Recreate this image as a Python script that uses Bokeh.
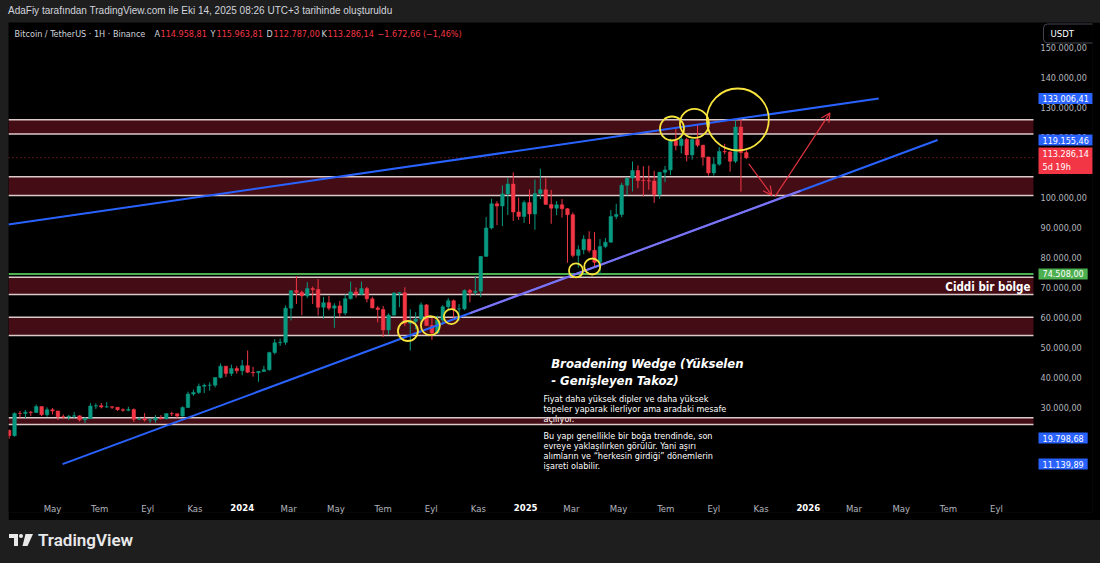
import numpy as np
import pandas as pd
from bokeh.plotting import figure
from bokeh.models import (ColumnDataSource, Range1d, LinearAxis, FixedTicker,
                          Label, Arrow, OpenHead, Div, CustomJS)
from bokeh.layouts import column, row
from bokeh.document import Document
from bokeh.embed import file_html
from bokeh.resources import INLINE
from bokeh.core.properties import value

# ---------------- data (weekly BTC/USDT candles) ----------------
FIRST_WEEK = "2023-03-06"
OPEN = [22430, 20620, 28030, 27990, 28450, 28330, 30300, 27590, 29230, 28850, 26910, 26850, 27100,
        27230, 25910, 26340, 30470, 30590, 30160, 30230, 30080, 29280, 29070, 29300, 26090, 26100,
        25820, 25830, 26520, 26250, 27970, 27920, 27150, 29990, 34500, 35010, 37050, 37380, 37450,
        39970, 43790, 41370, 42990,
        42280, 43950, 41730, 41580, 42030, 42580, 48300, 51570, 51730, 63110, 68960, 68390, 67210,
        69650, 69360, 63420, 64940, 63120, 63890, 61480, 66270, 68540, 67760, 69650, 66220, 63200,
        62680, 55850, 60800, 68160, 68250, 58100, 58710, 59480, 64210, 57300, 54840, 59130, 63580,
        65600, 62850, 62870, 69000, 68370, 68770, 80370, 89850, 97900, 97200, 101200, 104460, 95180,
        93700,
        98300, 94500, 101330, 102600, 97700, 96450, 97570, 96250, 94270, 80700, 82600, 86080, 82400,
        78400, 83700, 85100, 93700, 94300, 104100, 106500, 109000, 105700, 105600, 105500, 100900,
        108400, 109200, 119000, 117300, 119400, 114200, 119300, 117400, 113500, 108200, 111100,
        115300, 115200, 112100, 123500, 114958.81]
HIGH = [22600, 28390, 28870, 29200, 28840, 31000, 30490, 30040, 29820, 28890, 27670, 27500, 28450,
        27400, 26800, 31430, 31390, 31500, 31800, 30440, 30100, 29730, 30240, 29690, 26800, 28150,
        26450, 27480, 27480, 28050, 28580, 27990, 30380, 35280, 35980, 37980, 38000, 38400, 40000,
        44700, 43800, 44300, 43800,
        45880, 48970, 43570, 42200, 43880, 48590, 52820, 52980, 64000, 69000, 73780, 68900, 71780,
        70300, 72800, 66880, 67200, 64750, 65500, 67700, 71950, 70000, 71950, 70200, 66900, 63800,
        63860, 61400, 68400, 68500, 70080, 62750, 61800, 65000, 64480, 59800, 60640, 64130, 66500,
        66000, 64480, 69400, 69500, 73620, 80500, 93480, 99600, 98750, 104000, 106650, 108350, 99960,
        99000,
        102700, 106000, 109590, 106450, 102500, 98800, 99500, 96500, 95000, 84000, 87450, 88750,
        88500, 86100, 86500, 95800, 97900, 104900, 106700, 111980, 110700, 110400, 110600, 108900,
        108500, 110500, 119500, 123200, 120200, 119800, 119400, 124500, 117600, 113600, 113400,
        116800, 117900, 115400, 125700, 126200, 115963.81]
LOW = [19570, 20260, 26600, 26510, 27200, 28170, 27130, 26940, 27670, 25810, 26120, 25870, 26500,
       25350, 24800, 26250, 29500, 29700, 29950, 29500, 28860, 28580, 28750, 25170, 25800, 25330,
       24900, 24920, 26010, 25990, 27170, 26530, 26960, 29850, 33900, 34500, 34800, 35630, 36700,
       39700, 40200, 40500, 41300,
       40750, 41500, 40280, 38550, 41800, 42260, 47710, 50520, 50900, 59000, 64530, 60760, 66500,
       64500, 60660, 59600, 62400, 56550, 60180, 60750, 66000, 66600, 67600, 65050, 63000, 58400,
       53480, 54250, 60600, 63450, 57120, 49000, 56080, 57800, 57200, 52550, 54600, 57500, 62700,
       59830, 58900, 62400, 65050, 67500, 66800, 80200, 89370, 90800, 90500, 94200, 92200, 92500,
       91500,
       91200, 89250, 99500, 97800, 91230, 94100, 93300, 78250, 80000, 76600, 81100, 81600, 77150,
       74500, 83100, 85000, 92800, 93400, 100700, 102000, 103100, 100400, 102600, 98200, 99600,
       105100, 107500, 115700, 114700, 112000, 112600, 116800, 110600, 107300, 107300, 110600,
       114400, 108600, 111500, 102000, 112787.00]
CLOSE = [20620, 28030, 27990, 28450, 28330, 30300, 27590, 29230, 28850, 26910, 26850, 27100, 27230,
         25910, 26340, 30470, 30590, 30160, 30230, 30080, 29280, 29070, 29300, 26090, 26100, 25820,
         25830, 26520, 26250, 27970, 27920, 27150, 29990, 34500, 35010, 37050, 37380, 37450, 39970,
         43790, 41370, 42990, 42280,
         43950, 41730, 41580, 42030, 42580, 48300, 51570, 51730, 63110, 68960, 68390, 67210, 69650,
         69360, 63420, 64940, 63120, 63890, 61480, 66270, 68540, 67760, 69650, 66220, 63200, 62680,
         55850, 60800, 68160, 68250, 58100, 58710, 59480, 64210, 57300, 54840, 59130, 63580, 65600,
         62850, 62870, 69000, 68370, 68770, 80370, 89850, 97900, 97200, 101200, 104460, 95180, 93700,
         98300,
         94500, 101330, 102600, 97700, 96450, 97570, 96250, 94270, 80700, 82600, 86080, 82400, 78400,
         83700, 85100, 93700, 94300, 104100, 106500, 109000, 105700, 105600, 105500, 100900, 108400,
         109200, 119000, 117300, 119400, 114200, 119300, 117400, 113500, 108200, 111100, 115300,
         115200, 112100, 123500, 114958.80, 113286.14]

# axes
PRICE_TICKS = [30000, 40000, 50000, 60000, 70000, 80000, 90000, 100000, 110000, 120000,
               130000, 140000, 150000]
MONTH_TICKS = ["2023-05-01", "2023-07-01", "2023-09-01", "2023-11-01", "2024-03-01", "2024-05-01",
               "2024-07-01", "2024-09-01", "2024-11-01", "2025-03-01", "2025-05-01", "2025-07-01",
               "2025-09-01", "2025-11-01", "2026-03-01", "2026-05-01", "2026-07-01", "2026-09-01"]
MONTH_LABELS = ["May", "Tem", "Eyl", "Kas", "Mar", "May", "Tem", "Eyl", "Kas", "Mar", "May", "Tem",
                "Eyl", "Kas", "Mar", "May", "Tem", "Eyl"]
YEAR_TICKS = ["2024-01-01", "2025-01-01", "2026-01-01"]
YEAR_LABELS = ["2024", "2025", "2026"]
X_START, PANE_END, X_END = "2023-03-05 05:00", "2026-10-18 19:00", "2027-01-03"
Y_MIN, Y_MAX = -5000, 158333

# drawings
BAND_TOP = [125900, 106900, 73400, 60100, 26570]
BAND_BOTTOM = [121200, 100670, 67700, 54000, 24330]
KEY_LEVEL = 74508.00
UPPER_LINE_DATES = ["2023-03-05", "2026-04-02"]
UPPER_LINE_PRICES = [91000, 133006.41]
LOWER_LINE_DATES = ["2023-05-14", "2026-06-17"]
LOWER_LINE_PRICES = [11139.89, 119155.46]
LOWER_TINT_DATES = ["2024-10-21", "2025-12-22"]
MARKER_LEVELS = [19798.68]
CIRCLE_DATES = ["2024-08-02", "2024-08-31", "2024-09-27", "2025-03-07", "2025-03-28",
                "2025-07-09", "2025-08-07", "2025-10-02"]
CIRCLE_PRICES = [55500, 57300, 60300, 75700, 77000, 123000, 124700, 126000]
CIRCLE_SIZES = [20, 19, 15, 14, 16, 24, 29, 62]
ARROW_FROM_DATES = ["2025-10-16", "2025-11-19"]
ARROW_FROM_PRICES = [111300, 100300]
ARROW_TO_DATES = ["2025-11-15", "2026-01-29"]
ARROW_TO_PRICES = [100700, 128200]

TITLE_TEXT = "Broadening Wedge (Yükselen\n - Genişleyen Takoz)"
PARA1 = "Fiyat daha yüksek dipler ve daha yüksek\ntepeler yaparak ilerliyor ama aradaki mesafe\naçılıyor."
PARA2 = ("Bu yapı genellikle bir boğa trendinde, son\nevreye yaklaşılırken görülür. Yani aşırı\n"
         "alımların ve “herkesin girdiği” dönemlerin\nişareti olabilir.")
TITLE_AT = ("2025-02-03", 47300)
PARA1_AT = ("2025-01-24", 34500)
PARA2_AT = ("2025-01-24", 22100)
ZONE_TEXT = "Ciddi bir bölge"
ZONE_AT = ("2026-10-15", 70000)

# ---------------- helpers ----------------
FONT = "Liberation Sans Narrow, Arial Narrow, DejaVu Sans Condensed, sans-serif"
GREEN, RED, BLUE = "#089981", "#f23645", "#2962ff"


def ms(s):
    return pd.Timestamp(s).value / 1e6


def tr(v, d=2):
    s = f"{abs(v):,.{d}f}".replace(",", "X").replace(".", ",").replace("X", ".")
    return ("−" if v < 0 else "") + s


FIG_W, FIG_H, BR, BB = 1092, 498, 8, 8
FRAME_W, FRAME_H = FIG_W - BR, FIG_H - BB
UPP = (Y_MAX - Y_MIN) / FRAME_H  # price units per pixel

weeks = pd.date_range(FIRST_WEEK, periods=len(OPEN), freq="7D")
df = pd.DataFrame(dict(t=weeks, o=OPEN, h=HIGH, l=LOW, c=CLOSE))
df["top"] = df[["o", "c"]].max(axis=1)
df["bot"] = df[["o", "c"]].min(axis=1)
df["col"] = np.where(df.c >= df.o, GREEN, RED)
src = ColumnDataSource(df)

fig = figure(width=FIG_W, height=FIG_H, x_range=Range1d(ms(X_START), ms(X_END)),
             y_range=Range1d(Y_MIN, Y_MAX), x_axis_type=None, y_axis_type=None,
             output_backend="svg", toolbar_location=None,
             background_fill_color="#000000", border_fill_color="#000000",
             outline_line_color=None, min_border_left=0, min_border_right=BR,
             min_border_top=0, min_border_bottom=BB)

x0, x1 = ms(X_START), ms(PANE_END)

# zones (fill), then the note text, then the zone edges
nb = len(BAND_TOP)
fig.quad(left=[x0] * nb, right=[x1] * nb, bottom=BAND_BOTTOM, top=BAND_TOP,
         fill_color="#440d15", line_color=None, level="underlay")
fig.text(x=[ms(PARA1_AT[0]), ms(PARA2_AT[0])], y=[PARA1_AT[1], PARA2_AT[1]], text=[PARA1, PARA2],
         text_font=value(FONT), text_font_size="9px", text_color="#ffffff",
         text_baseline="top", text_line_height=1.0, level="underlay")
lv = BAND_TOP + BAND_BOTTOM
fig.segment(x0=[x0] * len(lv), y0=lv, x1=[x1] * len(lv), y1=lv, line_color="#dccaca",
            line_width=1.5, level="underlay")
fig.segment(x0=[x0], y0=[KEY_LEVEL], x1=[x1], y1=[KEY_LEVEL], line_color="#4caf50",
            line_width=2.2, level="underlay")
fig.segment(x0=[x0], y0=[CLOSE[-1]], x1=[x1], y1=[CLOSE[-1]], line_color=RED, line_alpha=0.75,
            line_width=1, line_dash="1 3", level="underlay")

# candles
fig.segment(x0="t", y0="h", x1="t", y1="l", source=src, line_color="col", line_width=1)
fig.vbar(x="t", width=4.6 * 86400000, top="top", bottom="bot", source=src,
         fill_color="col", line_color="col", line_width=0.5)

# trend lines
fig.line([ms(d) for d in UPPER_LINE_DATES], UPPER_LINE_PRICES, line_color=BLUE, line_width=2)
lx = [ms(d) for d in LOWER_LINE_DATES]
fig.line(lx, LOWER_LINE_PRICES, line_color=BLUE, line_width=2)
tx = [ms(d) for d in LOWER_TINT_DATES]
fig.line(tx, list(np.interp(tx, lx, LOWER_LINE_PRICES)), line_color="#8a76f0",
         line_width=2, line_alpha=0.9)

# highlight circles
fig.scatter(x=[ms(d) for d in CIRCLE_DATES], y=CIRCLE_PRICES, size=CIRCLE_SIZES,
            marker="circle", fill_color=None, line_color="#f7e43c", line_width=1.8)

# arrows
for xs, ys, xe, ye in zip(ARROW_FROM_DATES, ARROW_FROM_PRICES, ARROW_TO_DATES, ARROW_TO_PRICES):
    fig.add_layout(Arrow(x_start=ms(xs), y_start=ys, x_end=ms(xe), y_end=ye,
                         line_color=RED, line_width=1.2, line_alpha=0.9,
                         end=OpenHead(size=9, line_color=RED, line_width=1.2, line_alpha=0.9)))

# annotation texts
fig.text(x=[ms(TITLE_AT[0])], y=[TITLE_AT[1]], text=[TITLE_TEXT], text_font=value(FONT),
         text_font_size="13px", text_font_style="bold italic", text_color="#ffffff",
         text_baseline="top", text_line_height=1.15)
fig.add_layout(Label(x=ms(ZONE_AT[0]), y=ZONE_AT[1], text=ZONE_TEXT, text_font=FONT,
                     text_font_size="11.5px", text_font_style="bold", text_color="#ffffff",
                     text_align="right", text_baseline="middle"))

# time axis (labels drawn up into the black pane)
xaxis = LinearAxis(ticker=FixedTicker(ticks=[ms(d) for d in MONTH_TICKS]),
                   major_label_overrides={ms(d): l for d, l in zip(MONTH_TICKS, MONTH_LABELS)},
                   axis_line_color=None, major_tick_line_color=None, minor_tick_line_color=None,
                   major_tick_out=0, major_tick_in=0,
                   major_label_text_color="#b2b5be", major_label_text_font=FONT,
                   major_label_text_font_size="9.5px", major_label_standoff=-10)
fig.add_layout(xaxis, "below")
for d, l in zip(YEAR_TICKS, YEAR_LABELS):
    fig.add_layout(Label(x=ms(d), y=Y_MIN + 5 * UPP, text=l, text_font=FONT,
                         text_font_size="9.5px", text_font_style="bold", text_color="#ffffff",
                         text_align="center", text_baseline="middle"))

# price scale (labels drawn left into the black pane)
yaxis = LinearAxis(ticker=FixedTicker(ticks=PRICE_TICKS),
                   major_label_overrides={v: tr(v) for v in PRICE_TICKS},
                   axis_line_color=None, major_tick_line_color=None, minor_tick_line_color=None,
                   major_tick_out=0, major_tick_in=0,
                   major_label_text_color="#b2b5be", major_label_text_font=FONT,
                   major_label_text_font_size="9px", major_label_standoff=-(FRAME_W - 1032))
fig.add_layout(yaxis, "right")

# price tags on the scale
TAG_X = 1030
PAD = dict(left=4, right=4, top=2, bottom=2)
tags = [(UPPER_LINE_PRICES[1], BLUE), (LOWER_LINE_PRICES[1], BLUE), (KEY_LEVEL, "#4caf50"),
        (MARKER_LEVELS[0], BLUE), (LOWER_LINE_PRICES[0], BLUE)]
for v, c in tags:
    fig.add_layout(Label(x=TAG_X, y=v, x_units="screen", text=tr(v), text_font=FONT,
                         text_font_size="9px", text_color="#ffffff", text_baseline="middle",
                         background_fill_color=c, padding=PAD))
fig.add_layout(Label(x=TAG_X, y=CLOSE[-1], y_offset=-3, x_units="screen",
                     text=tr(CLOSE[-1]) + "\n5d 19h", text_font=FONT, text_font_size="9px",
                     text_color="#ffffff", text_baseline="middle", text_line_height=1.25,
                     background_fill_color=RED, padding=PAD))
fig.add_layout(Label(x=1035, y=Y_MAX - 11 * UPP, x_units="screen", text="USDT",
                     text_font=FONT, text_font_size="9.5px", text_color="#ffffff",
                     text_baseline="middle", background_fill_color="#000000",
                     border_line_color="#434651", border_radius=4,
                     padding=dict(left=7, right=24, top=4, bottom=4)))

# symbol line
yl = Y_MAX - 11 * UPP
chg = CLOSE[-1] - CLOSE[-2]
pct = chg / CLOSE[-2] * 100
segs = [("Bitcoin / TetherUS · 1H · Binance", 6, "#d1d4dc"),
        ("A", 146, "#d1d4dc"), (tr(OPEN[-1]), 152, RED),
        ("Y", 202, "#d1d4dc"), (tr(HIGH[-1]), 208, RED),
        ("D", 258, "#d1d4dc"), (tr(LOW[-1]), 265, RED),
        ("K", 313, "#d1d4dc"), (tr(CLOSE[-1]), 319, RED),
        (f"{tr(chg)} ({tr(pct)}%)", 369, RED)]
for t, x, c in segs:
    fig.add_layout(Label(x=x, y=yl, x_units="screen", text=t, text_font=FONT,
                         text_font_size="9px", text_color=c, text_baseline="middle"))

GRAY = "#1e1e1e"
header = Div(text=('<div style="font-family:\'Liberation Sans Narrow\',\'Arial Narrow\',sans-serif;'
                   'font-size:10px;color:#d1d4dc;line-height:22px;height:22px;padding-left:8px;'
                   'white-space:nowrap;">'
                   'AdaFiy tarafından TradingView.com ile Eki 14, 2025 08:26 UTC+3 tarihinde oluşturuldu'
                   '</div>'),
             width=1100, height=22, margin=0, styles={"background-color": GRAY})
left_strip = Div(text="", width=8, height=FIG_H, margin=0, styles={"background-color": GRAY})
footer = Div(text=('<div style="display:flex;align-items:center;height:43px;'
                   'box-sizing:border-box;padding-left:9px;padding-bottom:3px;">'
                   '<svg width="24" height="12" viewBox="0 0 24 12">'
                   '<path d="M0 0h9v12H5V4H0z" fill="#e9e9ea"/>'
                   '<circle cx="12" cy="2" r="2" fill="#e9e9ea"/>'
                   '<path d="M16.5 0h7.5l-5.5 12h-5z" fill="#e9e9ea"/></svg>'
                   '<span style="margin-left:5px;font:600 17px Roboto,sans-serif;color:#e9e9ea;">'
                   'TradingView</span></div>'),
             width=1100, height=43, margin=0, styles={"background-color": GRAY})

p = column(header, row(left_strip, fig, spacing=0), footer, spacing=0)
doc = Document()
doc.add_root(p)
try:
    doc.js_on_event("document_ready",
                    CustomJS(code="document.body.style.backgroundColor='#1e1e1e';"))
except Exception:
    pass

open("out.html", "w").write(file_html(p, INLINE))
